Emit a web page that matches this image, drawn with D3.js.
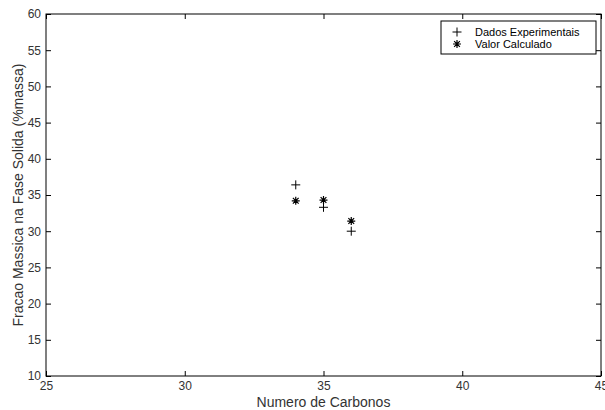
<!DOCTYPE html>
<html>
<head>
<meta charset="utf-8">
<script src="https://cdn.jsdelivr.net/npm/d3@7"></script>
<style>
  body { margin: 0; background: #fff; }
  svg { font-family: "Liberation Sans", Arial, sans-serif; }
</style>
</head>
<body>
<svg id="chart" width="605" height="410"></svg>
<script>
// data
const carbonos = [34, 35, 36]
const experimentais = [36.4, 33.3, 30.0]
const calculados = [34.2, 34.3, 31.4]
const xTicks = [25, 30, 35, 40, 45]
const yTicks = [10, 15, 20, 25, 30, 35, 40, 45, 50, 55, 60]
const legendLabels = ['Dados Experimentais', 'Valor Calculado']

const width = 605
const height = 410
const margin = { top: 14, right: 4, bottom: 34, left: 46 }

const svg = d3.select('#chart')

const x = d3.scaleLinear().domain([25, 45]).range([margin.left, width - margin.right])
const y = d3.scaleLinear().domain([10, 60]).range([height - margin.bottom, margin.top])

// box
svg.append('rect')
  .attr('x', x(25)).attr('y', y(60))
  .attr('width', x(45) - x(25)).attr('height', y(10) - y(60))
  .attr('fill', 'none').attr('stroke', '#000').attr('stroke-width', 1)

const tickLen = 5
const axisStyle = (g) => {
  g.select('.domain').remove()
  g.selectAll('line').attr('stroke', '#000')
  g.selectAll('text').attr('fill', '#333').attr('font-size', 12)
}

svg.append('g')
  .attr('transform', `translate(0,${y(10)})`)
  .call(d3.axisBottom(x).tickValues(xTicks).tickSizeInner(-tickLen).tickPadding(5))
  .call(axisStyle)

svg.append('g')
  .attr('transform', `translate(0,${y(60)})`)
  .call(d3.axisTop(x).tickValues(xTicks).tickSizeInner(-tickLen).tickFormat(''))
  .call(axisStyle)

svg.append('g')
  .attr('transform', `translate(${x(25)},0)`)
  .call(d3.axisLeft(y).tickValues(yTicks).tickSizeInner(-tickLen).tickPadding(5))
  .call(axisStyle)

svg.append('g')
  .attr('transform', `translate(${x(45)},0)`)
  .call(d3.axisRight(y).tickValues(yTicks).tickSizeInner(-tickLen).tickFormat(''))
  .call(axisStyle)

// axis labels
svg.append('text')
  .attr('x', (x(25) + x(45)) / 2).attr('y', 407)
  .attr('text-anchor', 'middle').attr('font-size', 14).attr('fill', '#333')
  .text('Numero de Carbonos')

svg.append('text')
  .attr('transform', `translate(23,${(y(10) + y(60)) / 2}) rotate(-90)`)
  .attr('text-anchor', 'middle').attr('font-size', 14).attr('fill', '#333')
  .text('Fracao Massica na Fase Solida (%massa)')

// markers
const plus = (g, cx, cy, r) => {
  g.append('path')
    .attr('d', `M${cx - r},${cy}H${cx + r}M${cx},${cy - r}V${cy + r}`)
    .attr('stroke', '#000').attr('stroke-width', 1).attr('fill', 'none')
}
const star = (g, cx, cy, r) => {
  const d = r * 0.72
  g.append('path')
    .attr('d', `M${cx - r},${cy}H${cx + r}M${cx},${cy - r}V${cy + r}` +
      `M${cx - d},${cy - d}L${cx + d},${cy + d}M${cx - d},${cy + d}L${cx + d},${cy - d}`)
    .attr('stroke', '#000').attr('stroke-width', 1.2).attr('fill', 'none')
}

const marks = svg.append('g')
carbonos.forEach((c, i) => {
  plus(marks, x(c), y(experimentais[i]), 4.5)
  star(marks, x(c), y(calculados[i]), 4)
})

// legend
const lg = svg.append('g').attr('transform', 'translate(441,21)')
lg.append('rect')
  .attr('width', 155).attr('height', 33)
  .attr('fill', '#fff').attr('stroke', '#000')
legendLabels.forEach((label, i) => {
  const cy = 11 + i * 12
  if (i === 0) plus(lg, 16, cy, 4.5)
  else star(lg, 16, cy, 4)
  lg.append('text')
    .attr('x', 34).attr('y', cy + 4)
    .attr('font-size', 11).attr('fill', '#000')
    .text(label)
})
</script>
</body>
</html>
